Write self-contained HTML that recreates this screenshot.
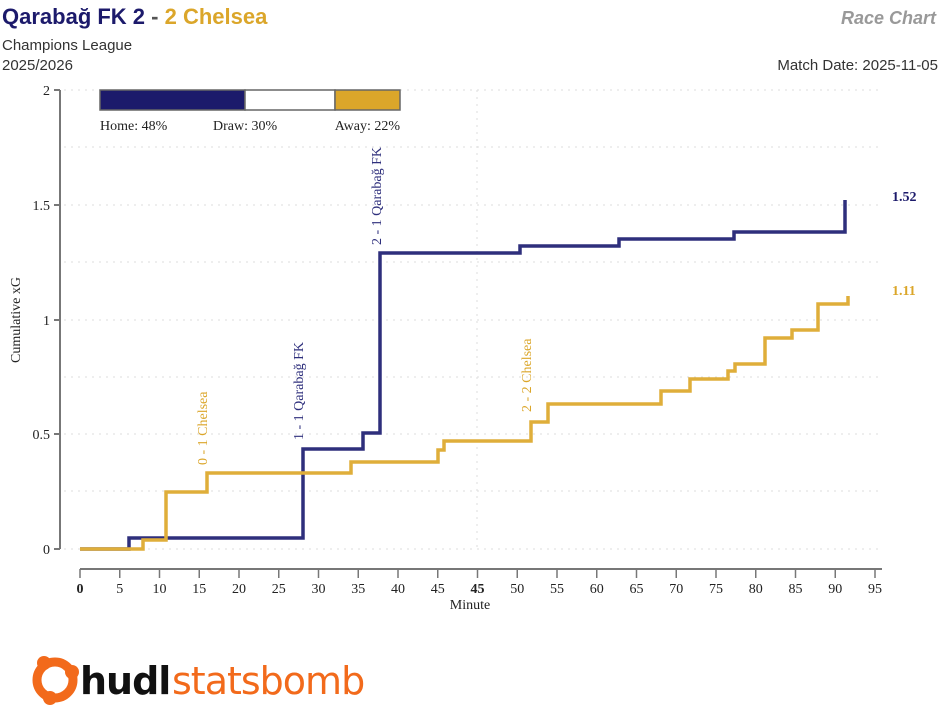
<!DOCTYPE html>
<html><head><meta charset="utf-8"><style>
body{margin:0;background:#fff;width:940px;height:720px;overflow:hidden}
svg{display:block}
</style></head><body>
<svg width="940" height="720" xmlns="http://www.w3.org/2000/svg">
<text x="2" y="24" font-family="Liberation Sans, sans-serif" font-size="22" font-weight="bold"><tspan fill="#1c1a6b">Qarabağ FK 2</tspan><tspan fill="#555"> - </tspan><tspan fill="#dba62a">2 Chelsea</tspan></text>
<text x="2" y="50" font-family="Liberation Sans, sans-serif" font-size="15" fill="#333">Champions League</text>
<text x="2" y="70" font-family="Liberation Sans, sans-serif" font-size="15" fill="#333">2025/2026</text>
<text x="936" y="24" text-anchor="end" font-family="Liberation Sans, sans-serif" font-size="18" font-weight="bold" font-style="italic" fill="#999">Race Chart</text>
<text x="938" y="70" text-anchor="end" font-family="Liberation Sans, sans-serif" font-size="15" fill="#333">Match Date: 2025-11-05</text>
<g stroke="#ddd" stroke-dasharray="2,5" stroke-width="1">
<line x1="64" y1="90" x2="882" y2="90"/><line x1="64" y1="147" x2="882" y2="147"/><line x1="64" y1="205" x2="882" y2="205"/><line x1="64" y1="262" x2="882" y2="262"/><line x1="64" y1="320" x2="882" y2="320"/><line x1="64" y1="377" x2="882" y2="377"/><line x1="64" y1="434" x2="882" y2="434"/><line x1="64" y1="491" x2="882" y2="491"/><line x1="64" y1="549" x2="882" y2="549"/>
<line x1="477" y1="90" x2="477" y2="549"/>
</g>
<g stroke="#777" stroke-width="2" fill="none">
<line x1="60" y1="90" x2="60" y2="549"/>
<line x1="54" y1="90" x2="60" y2="90"/><line x1="54" y1="205" x2="60" y2="205"/><line x1="54" y1="320" x2="60" y2="320"/><line x1="54" y1="434" x2="60" y2="434"/><line x1="54" y1="549" x2="60" y2="549"/>
<line x1="80" y1="569" x2="882" y2="569"/>
</g>
<g stroke="#777" stroke-width="1.5" id="xt"></g>
<g font-family="Liberation Serif, serif" font-size="14" fill="#222" text-anchor="end">
<text x="50" y="95">2</text><text x="50" y="210">1.5</text><text x="50" y="325">1</text><text x="50" y="439">0.5</text><text x="50" y="554">0</text>
</g>
<text transform="translate(20,320) rotate(-90)" text-anchor="middle" font-family="Liberation Serif, serif" font-size="14" fill="#222">Cumulative xG</text>
<g font-family="Liberation Serif, serif" font-size="14" fill="#222" text-anchor="middle" id="xl"></g>
<text x="470" y="609" text-anchor="middle" font-family="Liberation Serif, serif" font-size="14" fill="#222">Minute</text>
<script>
var t=document.getElementById('xt'),l=document.getElementById('xl'),ns='http://www.w3.org/2000/svg';
var labs=['0','5','10','15','20','25','30','35','40','45','45','50','55','60','65','70','75','80','85','90','95'];
for(var i=0;i<21;i++){var x=80+i*39.75;var ln=document.createElementNS(ns,'line');ln.setAttribute('x1',x);ln.setAttribute('x2',x);ln.setAttribute('y1',569);ln.setAttribute('y2',578);t.appendChild(ln);
var tx=document.createElementNS(ns,'text');tx.setAttribute('x',x);tx.setAttribute('y',593);tx.textContent=labs[i];if(i==10||i==0)tx.setAttribute('font-weight','bold');l.appendChild(tx);}
</script>
<rect x="100" y="90" width="145" height="20" fill="#1c1a6b" stroke="#666" stroke-width="1.5"/>
<rect x="245" y="90" width="90" height="20" fill="#fff" stroke="#666" stroke-width="1.5"/>
<rect x="335" y="90" width="65" height="20" fill="#dba62a" stroke="#666" stroke-width="1.5"/>
<g font-family="Liberation Serif, serif" font-size="14" fill="#222">
<text x="100" y="130">Home: 48%</text><text x="213" y="130">Draw: 30%</text><text x="400" y="130" text-anchor="end">Away: 22%</text>
</g>
<polyline fill="none" stroke="#2e2f7c" stroke-width="3.5" points="80,549 129,549 129,538 303,538 303,449 363,449 363,433 380,433 380,253 520,253 520,246 619,246 619,239 734,239 734,232 845,232 845,200"/>
<polyline fill="none" stroke="#dfae3a" stroke-width="3.5" points="80,549 143,549 143,540 166,540 166,492 207,492 207,473 351,473 351,462 438,462 438,450 444,450 444,441 531,441 531,422 548,422 548,404 661,404 661,391 690,391 690,379 728,379 728,371 735,371 735,364 765,364 765,338 792,338 792,330 818,330 818,304 848,304 848,296"/>
<g font-family="Liberation Serif, serif" font-size="14">
<text transform="translate(207,465) rotate(-90)" fill="#dba62a">0 - 1 Chelsea</text>
<text transform="translate(303,440) rotate(-90)" fill="#2e2f7c">1 - 1 Qarabağ FK</text>
<text transform="translate(381,245) rotate(-90)" fill="#2e2f7c">2 - 1 Qarabağ FK</text>
<text transform="translate(531,412) rotate(-90)" fill="#dba62a">2 - 2 Chelsea</text>
<text x="892" y="201" font-weight="bold" fill="#1c1a6b">1.52</text>
<text x="892" y="295" font-weight="bold" fill="#dba62a">1.11</text>
</g>
<g fill="#f26a1b">
<circle cx="55" cy="680" r="18" fill="none" stroke="#f26a1b" stroke-width="9"/>
<circle cx="44" cy="663" r="7"/><circle cx="72" cy="672" r="7"/><circle cx="50" cy="698" r="7"/>
</g>
<text x="80" y="694" font-family="DejaVu Sans, sans-serif" font-size="38" font-weight="bold" fill="#111" letter-spacing="-1">hudl</text>
<text x="172" y="694" font-family="DejaVu Sans, sans-serif" font-size="38" fill="#f26a1b" letter-spacing="-1">statsbomb</text>
</svg>
</body></html>
